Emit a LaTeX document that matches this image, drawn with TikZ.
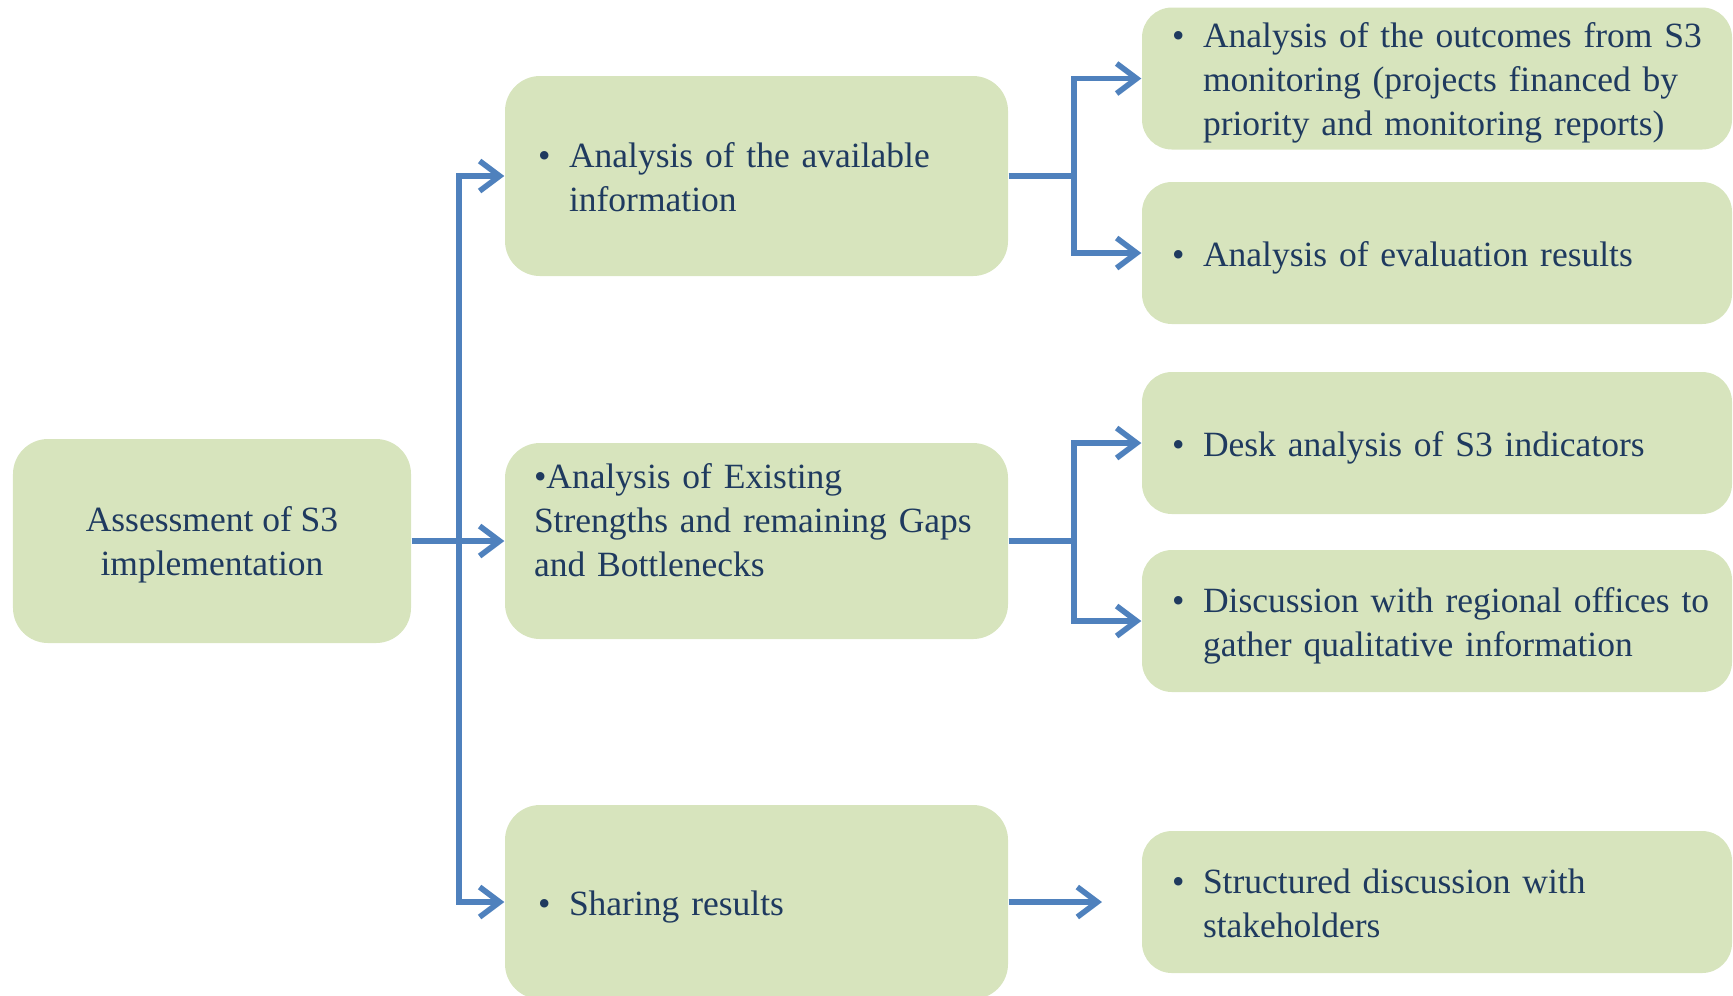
\documentclass[tikz,border=0pt]{standalone}
\usepackage{fontspec}
\setmainfont{Liberation Serif}
\usepackage{tikz}
\usetikzlibrary{arrows.meta}
\definecolor{boxgreen}{HTML}{D7E4BD}
\definecolor{linkblue}{HTML}{4F81BD}
\definecolor{textnavy}{HTML}{1F3A5F}
\newcommand{\topgap}{\rule{0pt}{11.3pt}}
\newcommand{\blist}[1]{\begin{tabular}{@{}p{0.31cm}@{}l@{}}\textbullet\topgap & #1\end{tabular}}

\begin{document}
\begin{tikzpicture}
  \tikzstyle{BoxStyle}=[fill=boxgreen,text=textnavy,inner ysep=0pt,
    font=\fontsize{10.1}{12.5}\selectfont]
  \tikzstyle{MidStyle}=[BoxStyle,rounded corners=0.35cm,minimum height=2cm,
    inner xsep=0.33cm,text width=4.37cm,align=left]
  \tikzstyle{RightStyle}=[BoxStyle,rounded corners=0.3cm,minimum height=1.42cm,
    inner xsep=0.30cm,text width=5.3cm,align=left]
  \tikzstyle{LineStyle}=[draw=linkblue,line width=1.6pt]
  \tikzstyle{EdgeStyle}=[LineStyle,-{Straight Barb[length=0.2cm,width=0.3cm]}]
  % bounds
  \useasboundingbox (0,0) rectangle (17.33,-9.95);
  \clip (0,0) rectangle (17.33,-9.95);
  % root
  \node[BoxStyle,rounded corners=0.35cm,minimum width=3.98cm,minimum height=2.04cm,
    align=center] (a_0) at (2.12,-5.41) {\rule{0pt}{9.3pt}Assessment of S3\\implementation};
  % level 1
  \node[MidStyle] (m_1) at (7.565,-1.76) {\blist{Analysis of the available\\ & information}};
  \node[MidStyle,minimum height=1.96cm,inner xsep=0.29cm,text width=4.45cm] (m_2) at (7.565,-5.41)
    {\begin{tabular}{@{}l@{}}\topgap\textbullet Analysis of Existing\\Strengths and remaining Gaps\\and Bottlenecks\\[0.44cm]\end{tabular}};
  \node[MidStyle,minimum height=1.94cm] (m_3) at (7.565,-9.02) {\blist{Sharing results}};
  % level 2
  \node[RightStyle] (r1_1) at (14.37,-0.785)
    {\blist{Analysis of the outcomes from S3\\ & monitoring (projects financed by\\ & priority and monitoring reports)}};
  \node[RightStyle] (r2_1) at (14.37,-2.53) {\blist{Analysis of evaluation results}};
  \node[RightStyle] (r1_2) at (14.37,-4.43) {\blist{Desk analysis of S3 indicators}};
  \node[RightStyle] (r2_2) at (14.37,-6.21)
    {\blist{Discussion with regional offices to\\ & gather qualitative information}};
  \node[RightStyle] (r1_3) at (14.37,-9.02) {\blist{Structured discussion with\\ & stakeholders}};
  % connectors
  \coordinate (t_0) at (4.59,-5.41);
  \coordinate (t_1) at (10.74,-1.76);
  \coordinate (t_2) at (10.74,-5.41);
  \coordinate (t_3) at (11.02,-9.02);
  \draw[LineStyle] (a_0) -- (t_0);
  \draw[EdgeStyle] (t_0) |- (m_1);
  \draw[EdgeStyle] (t_0) -- (m_2);
  \draw[EdgeStyle] (t_0) |- (m_3);
  \draw[LineStyle] (m_1) -- (t_1);
  \draw[EdgeStyle] (t_1) |- (r1_1);
  \draw[EdgeStyle] (t_1) |- (r2_1);
  \draw[LineStyle] (m_2) -- (t_2);
  \draw[EdgeStyle] (t_2) |- (r1_2);
  \draw[EdgeStyle] (t_2) |- (r2_2);
  \draw[EdgeStyle] (m_3) -- (t_3);
\end{tikzpicture}
\end{document}
